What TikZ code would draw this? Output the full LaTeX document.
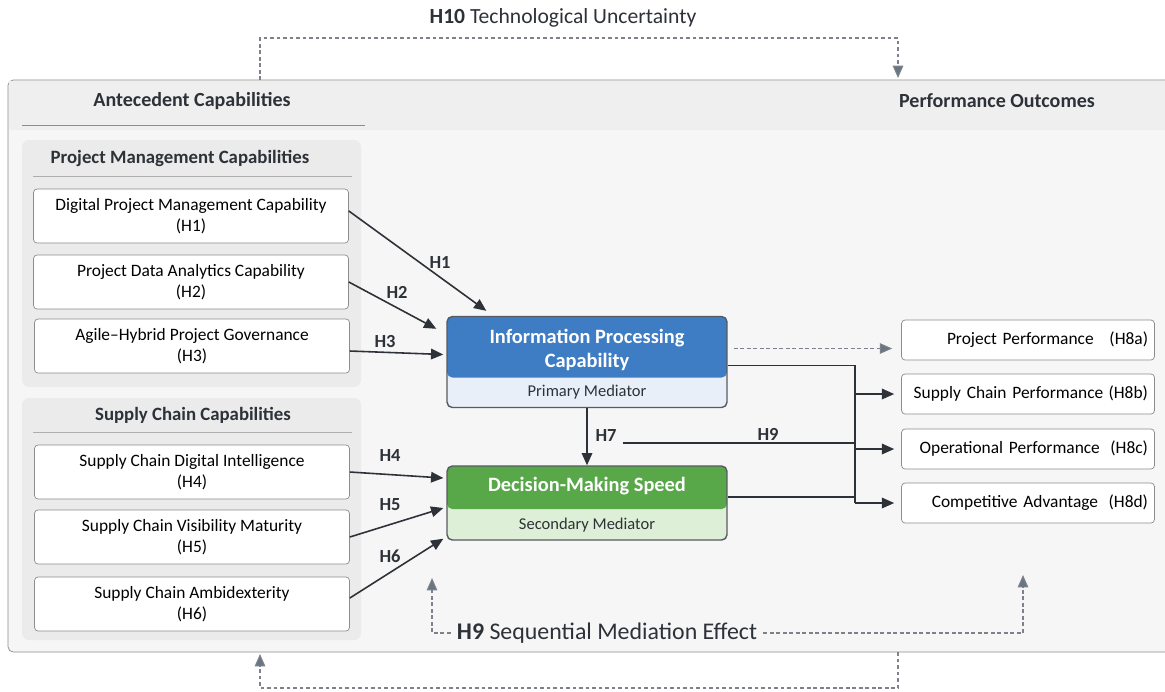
\documentclass[tikz,border=0pt]{standalone}
\usepackage{fontspec}
\setmainfont{Carlito}
\usetikzlibrary{arrows.meta}
\definecolor{ipcblue}{RGB}{62,124,196}
\definecolor{ipclight}{RGB}{232,239,249}
\definecolor{dmsgreen}{RGB}{88,168,74}
\definecolor{dmslight}{RGB}{221,239,214}
\definecolor{panelfill}{RGB}{246,246,246}
\definecolor{headfill}{RGB}{239,239,239}
\definecolor{groupfill}{RGB}{235,235,235}
\definecolor{boxgray}{RGB}{140,140,140}
\definecolor{linedark}{RGB}{45,49,56}
\definecolor{dashgray}{RGB}{125,130,138}
\definecolor{tipgray}{RGB}{105,117,131}
\tikzset{
  capbox/.style={draw=boxgray, fill=white, rounded corners=2pt, minimum width=6.3cm,
    minimum height=1.08cm, align=center, font=\fontsize{9.9}{12}\selectfont},
  outbox/.style={draw=boxgray, fill=white, rounded corners=2pt, minimum width=5.06cm,
    minimum height=0.8cm, text width=4.8cm, align=right, font=\fontsize{9.9}{12}\selectfont},
  grouptitle/.style={font=\bfseries\fontsize{10.7}{13}\selectfont, text=linedark},
  paneltitle/.style={font=\bfseries\fontsize{11.4}{14}\selectfont, text=linedark},
  hlab/.style={font=\bfseries\fontsize{10.5}{12}\selectfont, text=linedark},
  link/.style={draw=linedark, line width=0.9pt, -{Triangle[length=7pt,width=6pt]}},
  bus/.style={draw=linedark, line width=0.9pt},
  dashlink/.style={draw=dashgray, line width=0.6pt, dash pattern=on 2.2pt off 1.5pt,
    -{Triangle[length=7pt,width=6pt,fill=tipgray]}},
  dashline/.style={draw=dashgray, line width=0.6pt, dash pattern=on 2.2pt off 1.5pt}
}
\begin{document}
\begin{tikzpicture}[x=0.02cm, y=-0.02cm]
  \useasboundingbox (0,0) rectangle (1165,691);
  \fill[white] (0,0) rectangle (1165,691);

  \draw[draw=boxgray, fill=panelfill, rounded corners=3pt] (8,80) rectangle (1180,652);
  \fill[headfill] (9,81) rectangle (1165,130);
  \draw[boxgray] (22,125) -- (365,125);
  \node[paneltitle] (antlab) at (192,101) {Antecedent Capabilities};
  \node[paneltitle] (perflab) at (997,101) {Performance Outcomes};

  \fill[groupfill, rounded corners=4pt] (22,140) rectangle (361,387);
  \fill[groupfill, rounded corners=4pt] (22,398) rectangle (361,640);
  \node[grouptitle] (pmlab) at (180,158) {Project Management Capabilities};
  \draw[boxgray!70] (33,176) -- (352,176);
  \node[grouptitle] (sclab) at (193,415) {Supply Chain Capabilities};
  \draw[boxgray!70] (33,432) -- (352,432);

  \node[capbox] (pm1) at (191,216) {Digital Project Management Capability\\(H1)};
  \node[capbox] (pm2) at (191,282) {Project Data Analytics Capability\\(H2)};
  \node[capbox] (pm3) at (192,346) {Agile--Hybrid Project Governance\\(H3)};
  \node[capbox] (sc1) at (192,472) {Supply Chain Digital Intelligence\\(H4)};
  \node[capbox] (sc2) at (192,537) {Supply Chain Visibility Maturity\\(H5)};
  \node[capbox] (sc3) at (192,604) {Supply Chain Ambidexterity\\(H6)};

  \node[draw=linedark!80, fill=ipclight, rounded corners=3pt, line width=0.8pt,
    minimum width=5.6cm, minimum height=1.82cm,
    path picture={\fill[ipcblue] (path picture bounding box.north west)
      rectangle ([yshift=-1.22cm]path picture bounding box.north east);}]
    (ipc) at (587,362) {};
  \node[font=\bfseries\fontsize{11.6}{14}\selectfont, text=white, align=center]
    (ipctitle) at (587,350) {Information Processing\\Capability};
  \node[font=\fontsize{9.4}{11}\selectfont, text=linedark] (ipcsub) at (587,392) {Primary Mediator};

  \node[draw=linedark!80, fill=dmslight, rounded corners=3pt, line width=0.8pt,
    minimum width=5.6cm, minimum height=1.48cm,
    path picture={\fill[dmsgreen] (path picture bounding box.north west)
      rectangle ([yshift=-0.86cm]path picture bounding box.north east);}]
    (dms) at (587,503) {};
  \node[font=\bfseries\fontsize{11.6}{14}\selectfont, text=white] (dmstitle) at (587,486) {Decision-Making Speed};
  \node[font=\fontsize{9.4}{11}\selectfont, text=linedark] (dmssub) at (587,525) {Secondary Mediator};

  \node[outbox] (out1) at (1028,340) {Project Performance\hspace{9pt}(H8a)};
  \node[outbox] (out2) at (1028,394) {Supply Chain Performance\hspace{3pt}(H8b)};
  \node[outbox] (out3) at (1028,449) {Operational Performance\hspace{6pt}(H8c)};
  \node[outbox] (out4) at (1028,503) {Competitive Advantage\hspace{6pt}(H8d)};

  \draw[link] ([yshift=0.1cm]pm1.east) -- ([xshift=0.8cm,yshift=0.1cm]ipc.north west);
  \draw[link] (pm2.east) -- ([xshift=-0.2cm,yshift=-0.26cm]ipc.north west);
  \draw[link] ([yshift=-0.1cm]pm3.east) -- ([xshift=-0.06cm,yshift=0.15cm]ipc.west);
  \draw[link] (sc1.east) -- ([xshift=-0.06cm,yshift=0.5cm]dms.west);
  \draw[link] (sc2.east) -- ([xshift=-0.06cm,yshift=-0.1cm]dms.west);
  \draw[link] ([yshift=0.12cm]sc3.east) -- ([xshift=-0.06cm,yshift=0.04cm]dms.south west);
  \node[hlab] (h1) at (440,262) {H1};
  \node[hlab] (h2) at (397,292) {H2};
  \node[hlab] (h3) at (385,342) {H3};
  \node[hlab] (h4) at (390,455) {H4};
  \node[hlab] (h5) at (390,505) {H5};
  \node[hlab] (h6) at (390,556) {H6};

  \draw[link] (ipc.south) -- (dms.north);
  \node[hlab] (h7) at (606,436) {H7};
  \node[hlab] (h9) at (768,434) {H9};

  \coordinate (bus) at (855,366);
  \draw[bus] ([yshift=-0.07cm]ipc.east) -| (bus |- out4.west);
  \draw[bus] ([yshift=0.12cm]dms.east) -- ([yshift=0.12cm]bus |- dms.east);
  \draw[bus] ([yshift=-0.14cm]h7.east) -- ([yshift=-0.14cm]bus |- h7.east);
  \draw[link, shorten >=0.14cm] (bus |- out2.west) -- (out2.west);
  \draw[link, shorten >=0.14cm] (bus |- out3.west) -- (out3.west);
  \draw[link, shorten >=0.14cm] (bus |- out4.west) -- (out4.west);
  \draw[dashlink, shorten >=0.18cm] ([xshift=0.12cm,yshift=0.27cm]ipc.east)
    -- ([yshift=0.27cm]ipc.east -| out1.west);

  \node[font=\fontsize{12.3}{15}\selectfont, text=linedark] (unc) at (563,18)
    {\textbf{H10} Technological Uncertainty};
  \coordinate (uncl) at (260,80);
  \coordinate (uncr) at (898,80);
  \draw[dashlink] (uncl) -- (260,38) -- (898,38) -- ([yshift=0.04cm]uncr);
  \draw[dashlink] (898,652) -- (898,688) -- (260,688) -- ([yshift=-0.04cm]260,652);

  \node[font=\fontsize{13.6}{16}\selectfont, text=linedark] (seq) at (607,633)
    {\textbf{H9} Sequential Mediation Effect};
  \draw[dashlink] (seq.west) -| (432,578);
  \draw[dashlink] (seq.east) -| (1023,575);
\end{tikzpicture}
\end{document}
